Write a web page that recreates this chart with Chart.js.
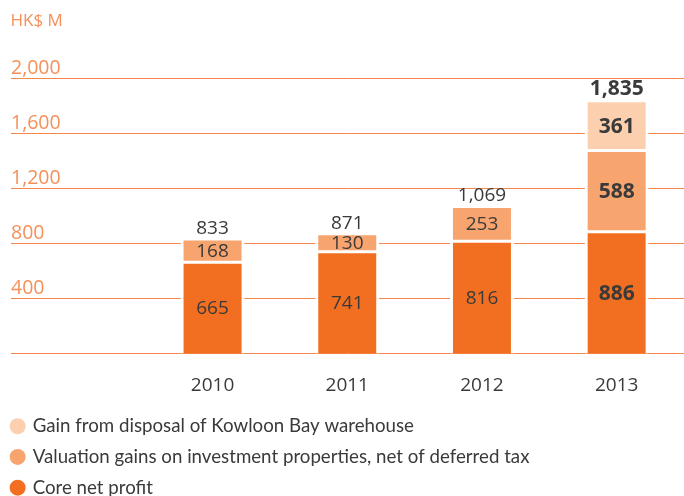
<!DOCTYPE html>
<html>
<head>
<meta charset="utf-8">
<script src="https://cdn.jsdelivr.net/npm/chart.js@4.4.0/dist/chart.umd.min.js"></script>
<style>
  html, body { margin: 0; padding: 0; background: #fff; }
</style>
</head>
<body>
<canvas id="profitChart" width="684" height="496"></canvas>
<script>
const years = ['2010', '2011', '2012', '2013'];
const coreProfit = [665, 741, 816, 886];
const valuationGains = [168, 130, 253, 588];
const disposalGain = [null, null, null, 361];
const totals = [833, 871, 1069, 1835];
const yTicks = [0, 400, 800, 1200, 1600, 2000];
const boldYear = '2013';

const FONT = "'Open Sans', sans-serif";
const LEGEND_FONT = "Lato, 'Open Sans', sans-serif";
const TEXT = '#3a3a3a';
const ORANGE_LINE = '#f5874a';
const ORANGE_TEXT = '#f5905a';

// leading empty slot keeps the gridlines running in from the left like the original
const labels = [''].concat(years);
const pad = arr => [null].concat(arr);

const fmt = v => v.toLocaleString('en-US');
const labelFont = year => year === boldYear
    ? { weight: 'bold', size: 21 } : { weight: 'normal', size: 19 };

const valueLabels = {
    id: 'valueLabels',
    afterDatasetsDraw(chart) {
        const ctx = chart.ctx;
        ctx.save();
        ctx.textAlign = 'center';
        ctx.fillStyle = TEXT;

        const tops = {};
        chart.data.datasets.forEach((ds, di) => {
            const meta = chart.getDatasetMeta(di);
            meta.data.forEach((bar, i) => {
                const v = ds.data[i];
                if (v == null) return;
                const f = labelFont(labels[i]);
                ctx.font = `${f.weight} ${f.size}px ${FONT}`;
                ctx.textBaseline = 'middle';
                ctx.fillText(fmt(v), bar.x, (bar.y + bar.base) / 2 + 1);
                if (tops[i] == null || bar.y < tops[i].y) tops[i] = { x: bar.x, y: bar.y };
            });
        });

        // Totals above each stack
        years.forEach((year, k) => {
            const top = tops[k + 1];
            if (!top) return;
            const f = labelFont(year);
            ctx.font = `${f.weight} ${f.size}px ${FONT}`;
            ctx.textBaseline = 'bottom';
            ctx.fillText(fmt(totals[k]), top.x, top.y - 1);
        });
        ctx.restore();
    }
};

const segment = (label, data, color, bottom) => ({
    label: label,
    data: pad(data),
    backgroundColor: color,
    borderColor: '#ffffff',
    borderWidth: { top: 1.5, bottom: bottom ? 0 : 1.5, left: 3, right: 3 },
    borderSkipped: false,
    barPercentage: 0.475,
    categoryPercentage: 1
});

const ctx = document.getElementById('profitChart').getContext('2d');
new Chart(ctx, {
    type: 'bar',
    data: {
        labels: labels,
        datasets: [
            segment('Core net profit', coreProfit, '#f26f21', true),
            segment('Valuation gains on investment properties, net of deferred tax', valuationGains, '#f7a46f', false),
            segment('Gain from disposal of Kowloon Bay warehouse', disposalGain, '#fcd0ae', false)
        ]
    },
    options: {
        responsive: false,
        animation: false,
        devicePixelRatio: 1,
        layout: { padding: { left: 0, right: 0, top: 0, bottom: -11 } },
        plugins: {
            tooltip: { enabled: false },
            title: {
                display: true,
                text: 'HK$ M',
                align: 'start',
                fullSize: false,
                color: ORANGE_TEXT,
                font: { family: FONT, size: 17, weight: 'normal' },
                padding: { top: 11, bottom: 46.6 }
            },
            legend: {
                position: 'bottom',
                align: 'start',
                reverse: true,
                labels: {
                    color: TEXT,
                    // at this size each entry wraps onto its own row
                    font: { family: LEGEND_FONT, size: 18.7 },
                    usePointStyle: true,
                    boxWidth: 11.3,
                    boxHeight: 11.3,
                    padding: 12,
                    generateLabels: chart => chart.data.datasets.map((ds, i) => ({
                        text: ds.label,
                        fillStyle: ds.backgroundColor,
                        strokeStyle: ds.backgroundColor,
                        lineWidth: 0,
                        pointStyle: 'circle',
                        hidden: false,
                        datasetIndex: i,
                        fontColor: TEXT
                    }))
                }
            }
        },
        scales: {
            x: {
                stacked: true,
                grid: { display: false },
                border: { display: false },
                ticks: { color: TEXT, font: { family: FONT, size: 19 }, padding: 12 },
                afterFit: s => { s.height = 51; }
            },
            y: {
                stacked: true,
                min: 0,
                max: 2000,
                afterBuildTicks: s => { s.ticks = yTicks.map(v => ({ value: v })); },
                afterFit: s => { s.width = 10.5; },
                grid: { color: ORANGE_LINE, lineWidth: 1, drawTicks: false },
                border: { display: false },
                ticks: {
                    mirror: true,
                    padding: 0.5,
                    labelOffset: -10,
                    color: ORANGE_TEXT,
                    font: { family: FONT, size: 19.5 },
                    callback: v => v === 0 ? '' : fmt(v)
                }
            }
        }
    },
    plugins: [valueLabels]
});
</script>
</body>
</html>
